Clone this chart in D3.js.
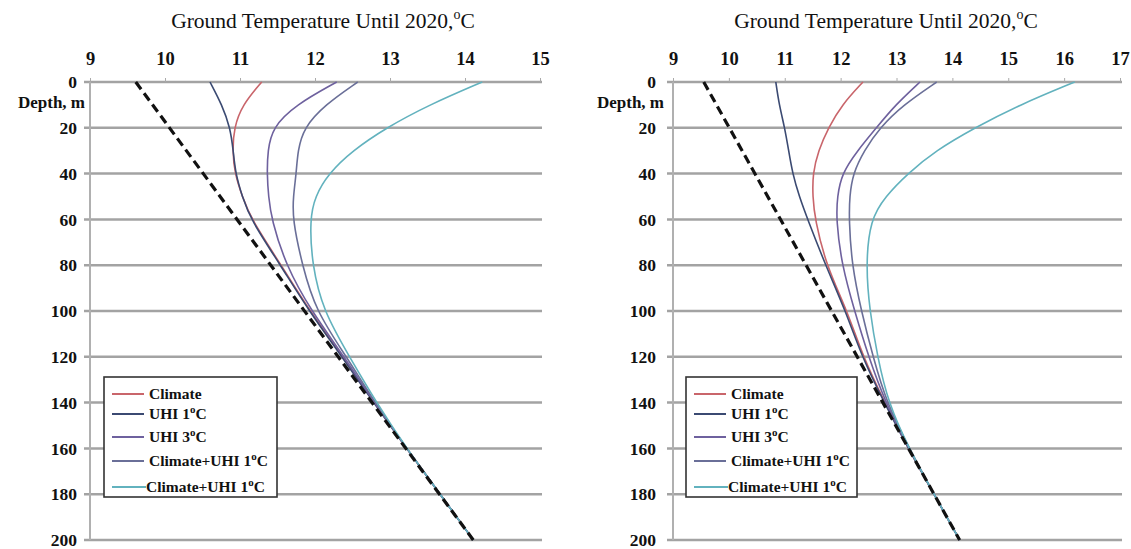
<!DOCTYPE html>
<html>
<head>
<meta charset="utf-8">
<script src="https://cdn.jsdelivr.net/npm/d3@7"></script>
<style>
  body { margin: 0; background: #fff; }
  svg { display: block; }
  text { font-family: "Liberation Serif", "Times New Roman", serif; fill: #111; }
</style>
</head>
<body>
<svg id="chart" width="1131" height="549"></svg>
<script>
// depths (m) shared by every curve
const depths = [0, 10, 20, 30, 40, 50, 60, 80, 100, 120, 140, 160, 180, 200];
const depthTicks = [0, 20, 40, 60, 80, 100, 120, 140, 160, 180, 200];

const seriesNames = ['Climate', 'UHI 1', 'UHI 3', 'Climate+UHI 1', 'Climate+UHI 1'];
const seriesColors = ['#c9656b', '#3b4a72', '#6e619e', '#6a6f98', '#62b2be'];

// left panel: temperature (°C) at each depth
const leftClimate  = [11.29, 11.03, 10.92, 10.90, 10.93, 11.03, 11.15, 11.55, 11.93, 12.37, 12.79, 13.22, 13.67, 14.11];
const leftUhi1     = [10.60, 10.76, 10.87, 10.91, 10.94, 11.03, 11.14, 11.54, 11.92, 12.36, 12.78, 13.22, 13.67, 14.11];
const leftUhi3     = [12.29, 11.74, 11.43, 11.37, 11.36, 11.38, 11.42, 11.61, 11.95, 12.39, 12.79, 13.22, 13.67, 14.11];
const leftClimUhiA = [12.57, 12.13, 11.85, 11.77, 11.75, 11.71, 11.70, 11.83, 12.01, 12.42, 12.80, 13.22, 13.67, 14.11];
const leftClimUhiB = [14.23, 13.52, 12.95, 12.50, 12.18, 12.00, 11.93, 11.96, 12.11, 12.46, 12.82, 13.22, 13.67, 14.11];
const leftBackground = [[0, 9.61], [200, 14.11]];
const leftTempTicks = [9, 10, 11, 12, 13, 14, 15];

// right panel
const rightClimate  = [12.40, 12.02, 11.78, 11.60, 11.50, 11.50, 11.54, 11.74, 12.12, 12.40, 12.79, 13.21, 13.67, 14.13];
const rightUhi1     = [10.84, 10.90, 11.00, 11.07, 11.14, 11.26, 11.41, 11.73, 12.09, 12.38, 12.78, 13.21, 13.67, 14.13];
const rightUhi3     = [13.42, 12.98, 12.64, 12.30, 12.02, 11.94, 11.92, 12.02, 12.25, 12.50, 12.80, 13.22, 13.67, 14.13];
const rightClimUhiA = [13.72, 13.12, 12.70, 12.42, 12.22, 12.16, 12.15, 12.20, 12.37, 12.58, 12.82, 13.23, 13.67, 14.13];
const rightClimUhiB = [16.19, 15.20, 14.40, 13.70, 13.20, 12.80, 12.53, 12.45, 12.52, 12.66, 12.85, 13.22, 13.67, 14.13];
const rightBackground = [[0, 9.55], [200, 14.13]];
const rightTempTicks = [9, 10, 11, 12, 13, 14, 15, 16, 17];

const svg = d3.select('#chart');

function drawPanel(opts) {
    const x = d3.scaleLinear().domain(opts.domain).range([opts.x0, opts.x1]);
    const y = d3.scaleLinear().domain([0, 200]).range([82, 540]);
    const g = svg.append('g');

    // title
    const title = g.append('text')
        .attr('x', opts.titleX).attr('y', 28)
        .attr('text-anchor', 'middle')
        .style('font-size', '21.5px');
    title.append('tspan').text('Ground Temperature Until 2020,');
    title.append('tspan').attr('dy', -9).style('font-size', '14px').text('o');
    title.append('tspan').attr('dy', 9).text('C');

    // horizontal grid lines
    g.selectAll('.grid').data(depthTicks).enter().append('line')
        .attr('x1', opts.x0 - 6).attr('x2', opts.x1 + 2)
        .attr('y1', d => y(d)).attr('y2', d => y(d))
        .attr('stroke', '#a3a3a3').attr('stroke-width', 2.5);

    // vertical axis line
    g.append('line')
        .attr('x1', opts.x0).attr('x2', opts.x0)
        .attr('y1', y(0)).attr('y2', y(200))
        .attr('stroke', '#b0b0b0').attr('stroke-width', 2);

    // top axis
    const top = d3.axisTop(x).tickValues(opts.ticks).tickSize(4).tickPadding(13).tickFormat(d3.format('d'));
    const ax = g.append('g').attr('transform', `translate(0,${y(0)})`).call(top);
    ax.select('.domain').remove();
    ax.selectAll('line').attr('stroke', '#aaa');
    ax.selectAll('text').style('font-size', '18.5px').style('font-weight', 'bold')
        .style('font-family', '"Liberation Serif", serif');

    // depth labels
    const left = d3.axisLeft(y).tickValues(depthTicks).tickSize(0).tickPadding(0);
    const ay = g.append('g').attr('transform', `translate(${opts.x0 - opts.labelGap},0)`).call(left);
    ay.select('.domain').remove();
    ay.selectAll('text').style('font-size', '17.5px').style('font-weight', 'bold')
        .style('font-family', '"Liberation Serif", serif');

    g.append('text')
        .attr('x', opts.x0 - opts.labelGap + 8).attr('y', 108)
        .attr('text-anchor', 'end')
        .style('font-size', '17px').style('font-weight', 'bold')
        .text('Depth, m');

    // curves
    const line = d3.line()
        .x(d => x(d[1])).y(d => y(d[0]))
        .curve(d3.curveBasis);

    opts.series.forEach((vals, i) => {
        g.append('path')
            .datum(depths.map((d, j) => [d, vals[j]]))
            .attr('d', line)
            .attr('fill', 'none')
            .attr('stroke', seriesColors[i])
            .attr('stroke-width', 1.6);
    });

    // initial (undisturbed) profile
    g.append('path')
        .datum(opts.background)
        .attr('d', d3.line().x(d => x(d[1])).y(d => y(d[0])))
        .attr('fill', 'none')
        .attr('stroke', '#111')
        .attr('stroke-width', 3.2)
        .attr('stroke-dasharray', '9,5');

    // legend
    const lg = g.append('g').attr('transform', `translate(${opts.legendX},377)`);
    lg.append('rect')
        .attr('width', opts.legendW).attr('height', 120)
        .attr('fill', '#fff').attr('stroke', '#333').attr('stroke-width', 1.6);
    const rows = [17, 37, 60, 84, 110];
    seriesNames.forEach((name, i) => {
        lg.append('line')
            .attr('x1', 8).attr('x2', i === 4 ? 42 : 40)
            .attr('y1', rows[i]).attr('y2', rows[i])
            .attr('stroke', seriesColors[i]).attr('stroke-width', 2);
        const t = lg.append('text')
            .attr('x', i === 4 ? 42 : 45).attr('y', rows[i] + 5)
            .style('font-size', '15.5px').style('font-weight', 'bold');
        t.append('tspan').text(name);
        if (i > 0) {
            t.append('tspan').attr('dy', -6).style('font-size', '11px').text('o');
            t.append('tspan').attr('dy', 6).text('C');
        }
    });
}

drawPanel({
    domain: [9, 15], x0: 90, x1: 540, titleX: 323, labelGap: 13,
    ticks: leftTempTicks,
    series: [leftClimate, leftUhi1, leftUhi3, leftClimUhiA, leftClimUhiB],
    background: leftBackground,
    legendX: 104, legendW: 173
});

drawPanel({
    domain: [9, 17], x0: 673, x1: 1120, titleX: 886, labelGap: 17,
    ticks: rightTempTicks,
    series: [rightClimate, rightUhi1, rightUhi3, rightClimUhiA, rightClimUhiB],
    background: rightBackground,
    legendX: 686, legendW: 171
});
</script>
</body>
</html>
